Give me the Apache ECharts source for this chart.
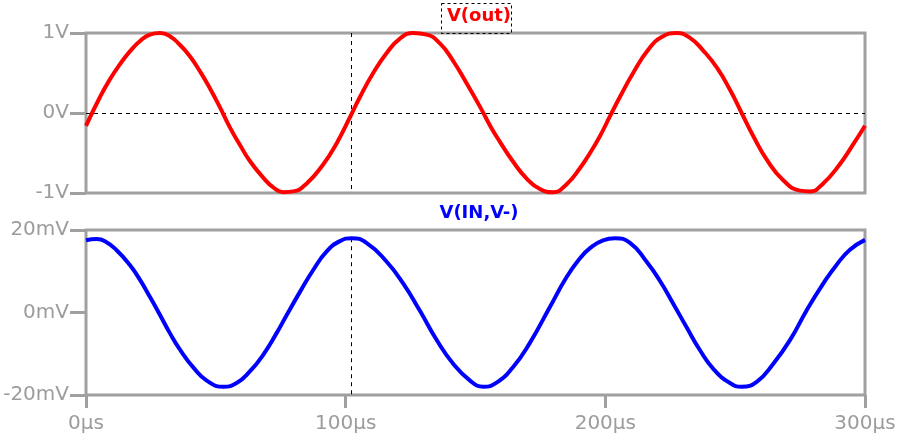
<!DOCTYPE html>
<html>
<head>
<meta charset="utf-8">
<script src="https://cdn.jsdelivr.net/npm/echarts@6/dist/echarts.min.js"></script>
<style>
html,body{margin:0;padding:0;background:#fff;}
#chart{width:900px;height:441px;}
</style>
</head>
<body>
<div id="chart"></div>
<script>
// ---- data ----
const topTitle = 'V(out)';
const bottomTitle = 'V(IN,V-)';
const xTickLabels = ['0µs', '100µs', '200µs', '300µs'];
const yTopTickLabels = ['-1V', '0V', '1V'];
const yBotTickLabels = ['-20mV', '0mV', '20mV'];

// time (µs) and V(out) (V)
const tOut = [0,5.4,9.2,13.1,16.9,20.8,24.6,28.5,32.3,36.2,40.0,43.9,47.7,51.6,55.4,59.3,63.1,68.3,72.1,76.0,79.8,85.0,91.4,96.5,101.7,105.5,110.6,115.8,120.9,126.0,131.2,136.3,141.4,146.6,151.7,156.0,159.4,164.5,169.7,174.8,179.9,185.1,190.2,194.1,197.9,201.8,205.6,210.7,216.5,221.7,227.5,232.6,237.7,242.9,248.0,252.5,257.0,262.1,268.5,274.9,278.8,283.9,290.3,295.5,300];
const vOut = [-0.16,0.2,0.42,0.61,0.77,0.9,0.98,1.0,0.96,0.85,0.71,0.52,0.31,0.07,-0.18,-0.4,-0.6,-0.81,-0.93,-0.99,-0.98,-0.88,-0.64,-0.38,-0.05,0.2,0.5,0.75,0.93,1.0,0.98,0.87,0.65,0.37,0.08,-0.18,-0.36,-0.61,-0.82,-0.95,-0.99,-0.89,-0.69,-0.5,-0.29,-0.04,0.2,0.5,0.79,0.95,1.0,0.94,0.78,0.57,0.29,0.0,-0.29,-0.58,-0.84,-0.97,-0.98,-0.88,-0.64,-0.39,-0.16];

// time (µs) and V(IN,V-) (mV)
const tIn = [0,4.1,7.3,11.8,16.9,20.8,24.6,28.5,32.3,36.2,41.3,46.5,52.9,58.0,63.1,68.3,73.4,77.3,82.4,87.5,92.7,97.8,102.3,108.0,115.8,122.2,128.6,135.0,141.4,147.9,153.0,158.1,164.5,171.0,178.7,185.1,190.2,194.1,199.1,203.7,209.5,215.9,221.0,226.1,231.3,236.4,241.5,248.0,252.5,258.3,264.7,271.1,277.5,283.9,289.1,294.2,300];
const vIn = [17.5,17.8,17.3,15.1,11.5,7.9,3.8,-0.6,-5.0,-9.0,-13.3,-16.5,-18.0,-17.1,-14.3,-10.2,-5.0,-0.6,5.0,10.3,14.8,17.3,18.0,16.9,12.3,7.0,0.4,-6.6,-12.4,-16.5,-18.0,-17.0,-13.2,-7.3,1.4,8.6,13.1,15.6,17.5,18.0,16.9,12.3,7.7,2.2,-3.6,-9.1,-13.6,-17.1,-18.0,-16.8,-12.4,-6.7,0.5,7.0,11.6,15.2,17.6];

// cursor position (µs)
const cursorT = 102.3;
const cursorInPeak = 18.0;

// ---- chart ----
const gray = '#a0a0a0';
const tickFont = {color: '#9c9c9c', fontFamily: 'DejaVu Sans', fontSize: 20};
const pairs = (t, v) => t.map((x, i) => [x, v[i]]);
const dashed = {color: '#000', type: [4, 4], width: 1};

const chart = echarts.init(document.getElementById('chart'), null, {renderer: 'canvas'});
chart.setOption({
  animation: false,
  backgroundColor: '#fff',
  title: [
    {text: topTitle, left: 474, top: 2, textAlign: 'center',
     textStyle: {color: '#ff0000', fontFamily: 'DejaVu Sans', fontWeight: 'bold', fontSize: 18}},
    {text: bottomTitle, left: 474, top: 199, textAlign: 'center',
     textStyle: {color: '#0000ff', fontFamily: 'DejaVu Sans', fontWeight: 'bold', fontSize: 18}}
  ],
  graphic: [
    {type: 'rect', left: 439, top: 1, shape: {width: 70, height: 30},
     style: {fill: 'none', stroke: '#000', lineWidth: 1, lineDash: [3, 3]}, z: 100}
  ],
  grid: [
    {left: 86, right: 35, top: 33, height: 160, show: true, borderColor: gray, borderWidth: 3},
    {left: 86, right: 35, top: 230, height: 165, show: true, borderColor: gray, borderWidth: 3}
  ],
  xAxis: [
    {type: 'value', gridIndex: 0, min: 0, max: 300, interval: 100, position: 'bottom',
     axisLine: {show: false, onZero: false}, axisTick: {show: false}, axisLabel: {show: false}, splitLine: {show: false}},
    {type: 'value', gridIndex: 1, min: 0, max: 300, interval: 100, position: 'bottom',
     axisLine: {show: false, onZero: false},
     axisTick: {show: true, length: 13, lineStyle: {color: gray, width: 3}},
     axisLabel: Object.assign({margin: 19, formatter: v => xTickLabels[Math.round(v / 100)]}, tickFont),
     splitLine: {show: false}}
  ],
  yAxis: [
    {type: 'value', gridIndex: 0, min: -1, max: 1, interval: 1,
     axisLine: {show: false, onZero: false},
     axisTick: {show: true, length: 16, lineStyle: {color: gray, width: 3}},
     axisLabel: Object.assign({margin: 17, formatter: v => yTopTickLabels[Math.round(v) + 1]}, tickFont),
     splitLine: {show: false}},
    {type: 'value', gridIndex: 1, min: -20, max: 20, interval: 20,
     axisLine: {show: false, onZero: false},
     axisTick: {show: true, length: 16, lineStyle: {color: gray, width: 3}},
     axisLabel: Object.assign({margin: 17, formatter: v => yBotTickLabels[Math.round(v / 20) + 1]}, tickFont),
     splitLine: {show: false}}
  ],
  series: [
    {type: 'line', xAxisIndex: 0, yAxisIndex: 0, data: pairs(tOut, vOut), smooth: 0.5,
     showSymbol: false, lineStyle: {color: '#ff0000', width: 4}, z: 5,
     markLine: {silent: true, symbol: 'none', label: {show: false}, lineStyle: dashed, z: 1,
       data: [
         [{coord: [0, 0]}, {coord: [300, 0]}],
         [{coord: [cursorT, 1]}, {coord: [cursorT, -1]}]
       ]}},
    {type: 'line', xAxisIndex: 1, yAxisIndex: 1, data: pairs(tIn, vIn), smooth: 0.5,
     showSymbol: false, lineStyle: {color: '#0000ff', width: 4}, z: 5,
     markLine: {silent: true, symbol: 'none', label: {show: false}, lineStyle: dashed, z: 1,
       data: [
         [{coord: [cursorT, cursorInPeak]}, {coord: [cursorT, -20]}]
       ]}}
  ]
});
</script>
</body>
</html>
